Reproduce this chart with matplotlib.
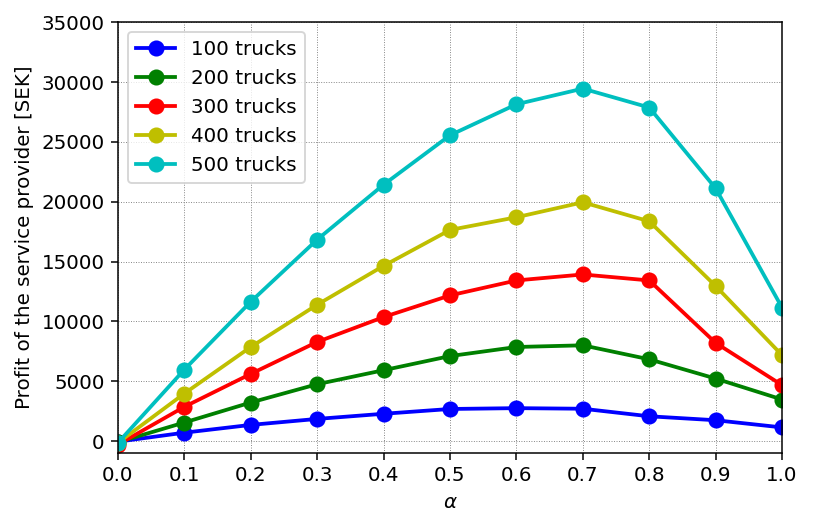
import numpy as np
import matplotlib
matplotlib.use("Agg")
from matplotlib import pyplot as plt

alpha = [0.0, 0.1, 0.2, 0.3, 0.4, 0.5, 0.6, 0.7, 0.8, 0.9, 1.0]

trucks_100 = [-50, 700, 1350, 1850, 2280, 2680, 2750, 2700, 2070, 1740, 1140]
trucks_200 = [-100, 1550, 3220, 4750, 5920, 7100, 7860, 8000, 6830, 5220, 3470]
trucks_300 = [-300, 2860, 5610, 8280, 10360, 12170, 13420, 13920, 13420, 8200, 4670]
trucks_400 = [-150, 3970, 7860, 11390, 14640, 17640, 18700, 19950, 18360, 12950, 7170]
trucks_500 = [-150, 5970, 11640, 16830, 21420, 25550, 28140, 29450, 27870, 21110, 11140]

series = [trucks_100, trucks_200, trucks_300, trucks_400, trucks_500]
labels = ["100 trucks", "200 trucks", "300 trucks", "400 trucks", "500 trucks"]
colors = ["b", "g", "r", "y", "c"]

plt.rcParams["font.size"] = 10.5

# small figure at high dpi -> 813x528 px
dpi = 136
fig, ax = plt.subplots(figsize=(813 / dpi, 528 / dpi), dpi=dpi)
fig.subplots_adjust(left=0.145, right=0.962, top=0.958, bottom=0.142)

for vals, lab, col in zip(series, labels, colors):
    ax.plot(alpha, vals, "-o", color=col, label=lab, linewidth=2, markersize=7.5)

ax.set_xlim(0, 1)
ax.set_ylim(-1000, 35000)
ax.set_xticks(np.arange(0, 1.01, 0.1))
ax.set_xlabel(r"$\alpha$")
ax.set_ylabel("Profit of the service provider [SEK]")
ax.grid(True, linestyle=":", linewidth=0.5, color="gray")
ax.legend(loc="upper left")

fig.savefig("out.png", dpi=dpi)
